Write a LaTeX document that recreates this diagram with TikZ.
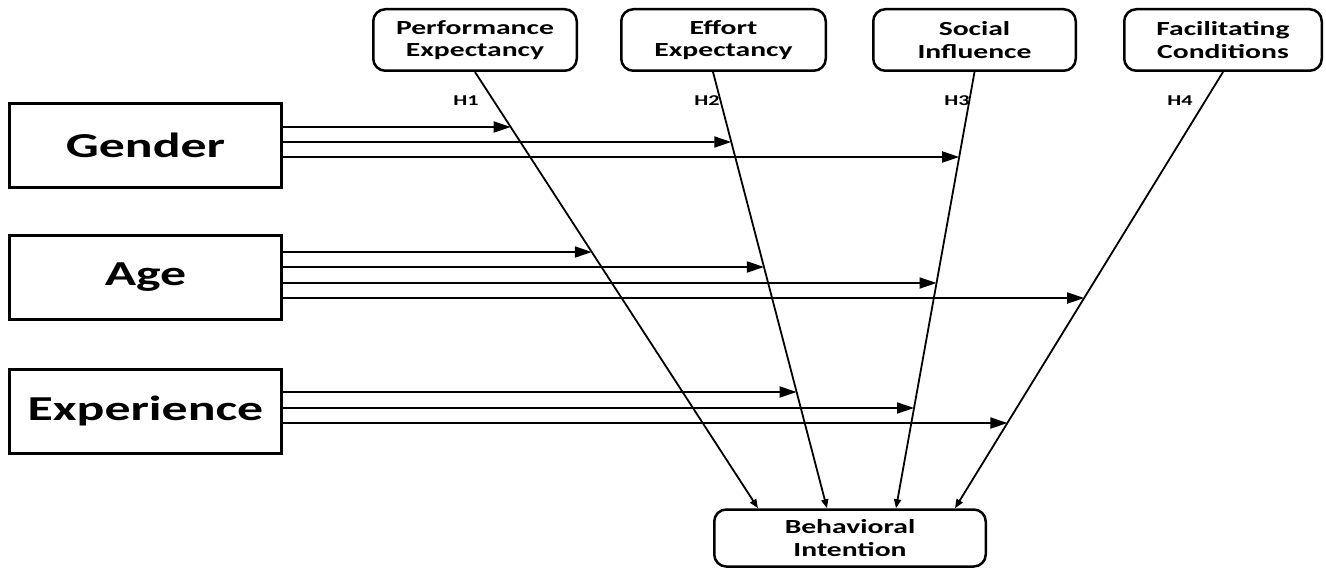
\documentclass[tikz,border=0pt]{standalone}
\usepackage{fontspec}
\setmainfont{Carlito}
\usepackage{graphicx}
\usetikzlibrary{arrows.meta}
\newcommand{\sx}[1]{\scalebox{1.48}[1]{#1}}
\begin{document}
\begin{tikzpicture}[x=1pt,y=-1pt,
  factor/.style={draw, line width=3pt, minimum width=272pt, minimum height=84pt, inner sep=0pt,
    font=\fontsize{35}{40}\selectfont\bfseries},
  construct/.style={draw, line width=2.5pt, rounded corners=12pt, minimum height=61.5pt, inner sep=0pt,
    align=center, font=\fontsize{20}{22.5}\selectfont\bfseries},
  hlab/.style={font=\fontsize{15}{17}\selectfont\bfseries, inner sep=0pt},
  harrow/.style={line width=1.8pt, -{Triangle[length=17pt,width=11pt]}},
  darrow/.style={line width=1.8pt, -{Triangle[length=9pt,width=7pt]}}]
\useasboundingbox (0,0) rectangle (1326,572);
\fill[white] (0,0) rectangle (1326,572);

% constructs
\node[construct, minimum width=203.5pt] (pe) at (475,40) {\sx{Performance}\\\sx{Expectancy}};
\node[construct, minimum width=204.5pt] (ee) at (723.5,40) {\sx{Effort}\\\sx{Expectancy}};
\node[construct, minimum width=202.5pt] (si) at (974.5,40) {\sx{Social}\\\sx{Influence}};
\node[construct, minimum width=197.5pt] (fc) at (1223,40) {\sx{Facilitating}\\\sx{Conditions}};
\node[construct, minimum width=271.5pt, minimum height=57pt] (bi) at (850,538) {\sx{Behavioral}\\\sx{Intention}};

% moderators
\node[factor] (gen) at (145.5,145.5) {\sx{Gender}};
\node[factor] (age) at (145.5,277.5) {\sx{Age}};
\node[factor] (exp) at (145.5,411) {\sx{Experience}};

% hypothesis labels
\node[hlab] (h1) at (466,101) {\sx{H1}};
\node[hlab] (h2) at (707,101) {\sx{H2}};
\node[hlab] (h3) at (957,101) {\sx{H3}};
\node[hlab] (h4) at (1180,101) {\sx{H4}};

% start / end points of the hypothesis paths
\coordinate (s1) at (pe.south);
\coordinate (s2) at ([xshift=-10.5pt]ee.south);
\coordinate (s3) at (si.south);
\coordinate (s4) at (fc.south);
\coordinate (b1) at ([xshift=-92pt]bi.north);
\coordinate (b2) at ([xshift=-23pt]bi.north);
\coordinate (b3) at ([xshift=46pt]bi.north);
\coordinate (b4) at ([xshift=105pt]bi.north);

\draw[darrow] (s1) -- (b1);
\draw[darrow] (s2) -- (b2);
\draw[darrow] (s3) -- (b3);
\draw[darrow] (s4) -- (b4);

% Gender moderations
\path (gen.east |- 0,127) coordinate (g1) +(10,0) coordinate (g1e);
\path (gen.east |- 0,142) coordinate (g2) +(10,0) coordinate (g2e);
\path (gen.east |- 0,157) coordinate (g3) +(10,0) coordinate (g3e);
\draw[harrow] (g1) -- (intersection of g1--g1e and s1--b1);
\draw[harrow] (g2) -- (intersection of g2--g2e and s2--b2);
\draw[harrow] (g3) -- (intersection of g3--g3e and s3--b3);

% Age moderations
\path (age.east |- 0,252) coordinate (a1) +(10,0) coordinate (a1e);
\path (age.east |- 0,267) coordinate (a2) +(10,0) coordinate (a2e);
\path (age.east |- 0,283) coordinate (a3) +(10,0) coordinate (a3e);
\path (age.east |- 0,298) coordinate (a4) +(10,0) coordinate (a4e);
\draw[harrow] (a1) -- (intersection of a1--a1e and s1--b1);
\draw[harrow] (a2) -- (intersection of a2--a2e and s2--b2);
\draw[harrow] (a3) -- (intersection of a3--a3e and s3--b3);
\draw[harrow] (a4) -- (intersection of a4--a4e and s4--b4);

% Experience moderations
\path (exp.east |- 0,392) coordinate (e1) +(10,0) coordinate (e1e);
\path (exp.east |- 0,408) coordinate (e2) +(10,0) coordinate (e2e);
\path (exp.east |- 0,423) coordinate (e3) +(10,0) coordinate (e3e);
\draw[harrow] (e1) -- (intersection of e1--e1e and s2--b2);
\draw[harrow] (e2) -- (intersection of e2--e2e and s3--b3);
\draw[harrow] (e3) -- (intersection of e3--e3e and s4--b4);
\end{tikzpicture}
\end{document}
